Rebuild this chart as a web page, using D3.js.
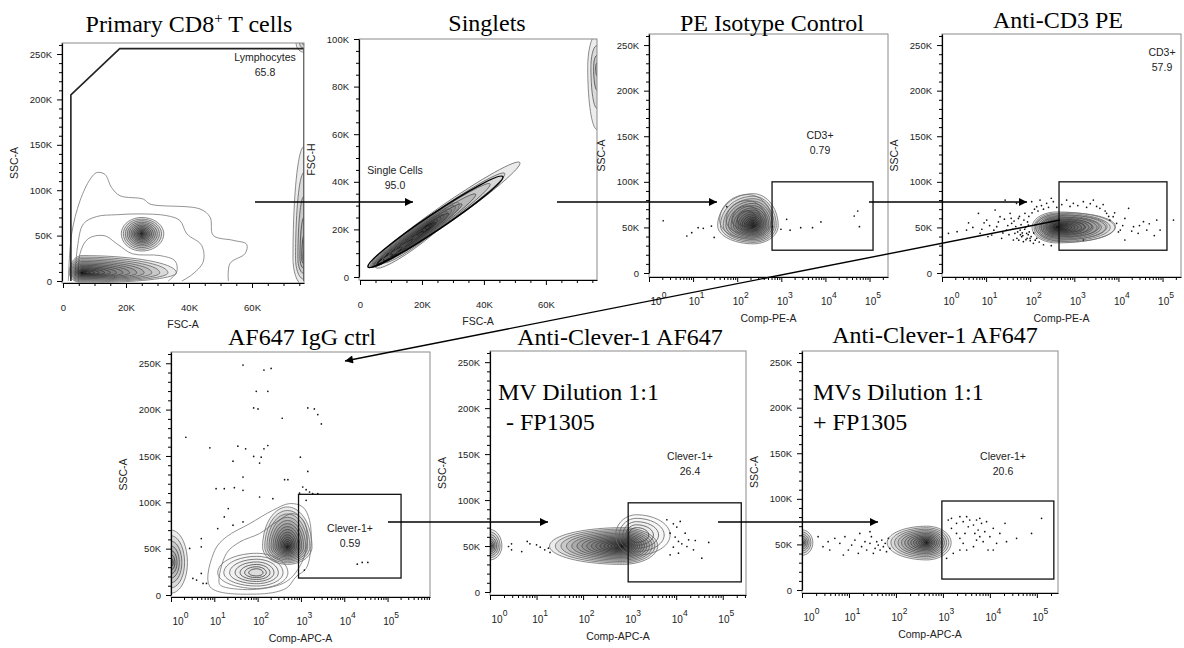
<!DOCTYPE html>
<html>
<head>
<meta charset="utf-8">
<script src="https://cdn.jsdelivr.net/npm/d3@7"></script>
<style>
  body { margin: 0; background: #fff; }
  svg text { font-family: "Liberation Sans", Arial, sans-serif; }
  .title, .note { font-family: "Liberation Serif", "Times New Roman", serif; font-size: 24px; fill: #000; }
</style>
</head>
<body>
<svg id="chart" width="1184" height="648"></svg>
<script>
// ---- text ----
const titles = ["Primary CD8+ T cells", "Singlets", "PE Isotype Control", "Anti-CD3 PE",
                "AF647 IgG ctrl", "Anti-Clever-1 AF647", "Anti-Clever-1 AF647"];
const xLabels = ["FSC-A", "FSC-A", "Comp-PE-A", "Comp-PE-A", "Comp-APC-A", "Comp-APC-A", "Comp-APC-A"];
const yLabels = ["SSC-A", "FSC-H", "SSC-A", "SSC-A", "SSC-A", "SSC-A", "SSC-A"];
const gateNames = ["Lymphocytes", "Single Cells", "CD3+", "CD3+", "Clever-1+", "Clever-1+", "Clever-1+"];
const gateValues = ["65.8", "95.0", "0.79", "57.9", "0.59", "26.4", "20.6"];
const notes = [null, null, null, null, null, ["MV Dilution 1:1", "- FP1305"], ["MVs Dilution 1:1", "+ FP1305"]];

// ---- ticks ----
const fscTicks = [0, 20000, 40000, 60000];
const fshTicks = [0, 20000, 40000, 60000, 80000, 100000];
const sscTicks = [0, 50000, 100000, 150000, 200000, 250000];
const logTicks = [1, 10, 100, 1000, 10000, 100000];

// ---- gates (data units) ----
const lymphGate = [[2500, 0], [2500, 205000], [18000, 256000], [76500, 256000], [76500, 0]];
const singletGate = { from: [2600, 4200], to: [46100, 42200], ratio: 0.1 };
const rectGates = [null, null,
  [[616, 25000], [120000, 100000]],
  [[450, 25000], [126000, 100000]],
  [[880, 18300], [205000, 108600]],
  [[930, 11000], [250000, 97000]],
  [[950, 12000], [230000, 97600]]];

// ---- contour populations: x/y = [low edge, peak, high edge], n = rings, skip = hide inner rings ----
const p1Pops = [
  { x: [18500, 25000, 32000], y: [33000, 52000, 70000], n: 14 },
  { x: [2000, 6000, 36000], y: [-2000, 9000, 28000], n: 16 },
  { x: [73000, 76500, 80000], y: [-5000, 25000, 148000], n: 6 },
  { x: [74000, 76500, 80000], y: [252000, 262000, 272000], n: 3 }];
const p2Pops = [
  { x: [73500, 76500, 79000], y: [62000, 88000, 102000], n: 4 }];
const p2Diag = [
  { from: [3200, 4200], to: [51600, 48100], peak: [6000, 5500], ratio: 0.1, n: 12 },
  { from: [5000, 4000], to: [32000, 31000], peak: [22000, 21000], ratio: 0.17, n: 10 }];
const p3Pops = [
  { x: [36, 230, 850], y: [32000, 52000, 87000], n: 18 },
  { x: [40, 170, 600], y: [38000, 58000, 86000], n: 6, skip: 0.5 }];
const p4Pops = [
  { x: [110, 400, 8300], y: [33000, 50000, 67000], n: 18 },
  { x: [130, 700, 8600], y: [34000, 51000, 66000], n: 8, skip: 0.4 }];
const p5Pops = [
  { x: [130, 490, 1800], y: [33000, 52000, 95000], n: 16 },
  { x: [12, 95, 500], y: [7000, 24000, 45000], n: 9, skip: 0.25 },
  { x: [0.5, 1, 2.4], y: [2000, 35000, 70000], n: 8 }];
const p6Pops = [
  { x: [0.5, 1, 1.8], y: [35000, 50000, 68000], n: 9 },
  { x: [19, 700, 4000], y: [30000, 50000, 70000], n: 18 },
  { x: [500, 1400, 7400], y: [40000, 62000, 84000], n: 8, skip: 0.4 }];
const p7Pops = [
  { x: [0.5, 1, 1.7], y: [38000, 52000, 66000], n: 8 },
  { x: [65, 450, 1500], y: [33000, 52000, 70000], n: 15 }];

// ---- free-form outer contours ----
const p1Outlines = [
  [[1700, 0], [2750, 52000], [5400, 88400], [8600, 112000], [10700, 119400], [13300, 117500], [15400, 103000],
   [18100, 93900], [25500, 90200], [27600, 84800], [43500, 79300], [46700, 70200], [47700, 50200], [54000, 44800],
   [58300, 40400], [57800, 30200], [53000, 19300], [52500, 0]],
  [[3800, 0], [4600, 37500], [6500, 63000], [10700, 71000], [17000, 73000], [24400, 73900], [32900, 72000],
   [37100, 66600], [39300, 52000], [44000, 39300], [44500, 21100], [40800, 6600], [37700, 0]],
  [[4900, 0], [5400, 30200], [8000, 46600], [13000, 50000], [17500, 40000], [22000, 30000], [30800, 28000],
   [35600, 22000], [36100, 10000], [33400, 0]]];
const p5Outlines = [
  [[7.9, 9000], [10.3, 48400], [19, 62700], [66, 77000], [225, 91400], [545, 98600], [1100, 95000], [1580, 80600],
   [1700, 52000], [1320, 28700], [770, 19700], [455, 7200], [93, 1000]],
  [[13, 12500], [19, 44800], [39, 57300], [111, 66300], [270, 78800], [650, 87800], [1200, 78800], [1350, 52000],
   [930, 30500], [455, 14300], [93, 6100], [16, 9000]]];

// ---- single events ----
const p3Dots = [[2.1, 57300], [7.2, 40600], [9.3, 44200], [13, 49700], [17, 49000], [26, 51500], [30, 39000],
  [58, 72700], [630, 50800], [980, 48000], [1320, 58900], [1580, 47000], [2750, 49700], [5100, 49700],
  [7900, 56000], [45000, 62500], [59000, 50800], [54000, 68000]];
const p4Dots = [[1.4, 43500], [2.2, 45300], [3.6, 47100], [6.7, 65400], [7.3, 43500], [10.3, 58100], [13.4, 41700],
  [16, 69100], [17.4, 50800], [20.7, 61800], [22.5, 38000], [27, 80000], [29, 47100], [35, 65400], [38, 54500],
  [41.5, 36200], [45, 43500], [49, 76400], [54, 59900], [59, 47100], [64, 39800], [70, 34400], [76, 65400],
  [83, 43500], [91, 52600], [99, 38000], [108, 78200], [118, 32500], [140, 72700], [167, 80000], [236, 76400],
  [335, 78200], [670, 80000], [950, 76400], [1600, 78200], [2700, 80000], [3800, 70900], [5400, 65400],
  [6400, 58100], [7600, 61800], [9100, 54500], [11000, 47100], [14000, 59900], [17000, 70900], [22000, 50800],
  [28000, 43500], [37000, 56300], [44000, 47100], [74000, 58100], [88000, 47100], [177000, 58100],
  [14000, 36200], [1600, 36200], [60, 42000], [75, 48000], [85, 38000], [95, 45000], [105, 40000], [50, 38000],
  [120, 44000], [130, 36000], [55, 36000], [68, 41000], [80, 36500], [90, 42000], [100, 35500],
  [12, 52000], [15, 47000], [19, 56000], [24, 44000], [26, 59000], [31, 52000], [33, 42000], [37, 60000],
  [40, 48000], [43, 57000], [47, 51000], [52, 45000], [57, 62000], [62, 53000], [66, 44000], [72, 58000],
  [78, 50000], [87, 56000], [93, 62000], [110, 66000], [125, 70000], [150, 68000], [180, 74000], [200, 70000],
  [260, 72000], [300, 82000], [400, 72000], [520, 75000], [800, 73000], [1200, 74000], [1900, 72000],
  [2300, 76000], [3200, 73000], [4500, 75000], [5000, 68000], [6000, 62000], [8200, 66000], [12500, 52000],
  [10000, 45000], [20000, 46000], [30000, 52000], [50000, 54000], [65000, 41000], [4, 55000], [5, 50000],
  [8, 48000], [9, 55000], [11, 40000], [140, 38000], [160, 34000], [200, 31000], [300, 30000]];
const p5Dots = [[46, 248000], [140, 242600], [205, 244400], [93, 219700], [81, 201800], [102, 200700],
  [172, 219700], [370, 190700], [1440, 201800], [2040, 200700], [2450, 194600], [2960, 184600], [2.2, 170200],
  [7.9, 158800], [35, 160600], [53, 157700], [140, 157700], [172, 161300], [81, 149500], [121, 148700],
  [111, 142300], [970, 148700], [27, 144400], [46, 127200], [420, 124400], [500, 124400], [1440, 133300],
  [11, 114700], [17, 114700], [29, 115800], [46, 112900], [111, 105700], [225, 103900], [1100, 116500],
  [1320, 113600], [930, 110000], [1580, 111100], [1860, 109300], [1320, 102100], [2450, 109300], [21, 93200],
  [17, 84200], [12, 71700], [27, 75300], [46, 78800], [5, 60900], [5, 52000], [2.7, 50200], [3.2, 17900],
  [3.9, 16100], [5, 23300], [5.5, 12500], [6.6, 12500], [26000, 35100], [35000, 35100], [20000, 33300],
  [1200, 26900]];
const p6Dots = [[2.5, 49500], [2.9, 52400], [2.9, 45900], [4.8, 44000], [6.3, 55000], [7.2, 52400], [10, 51300],
  [12, 48800], [15, 45900], [18, 47700], [19.5, 43000], [6300, 78600], [8700, 74200], [10300, 70600],
  [12200, 76800], [7400, 64000], [9500, 59700], [11200, 55000], [13200, 52400], [17000, 49500], [23500, 45900],
  [35500, 36800], [7400, 40400], [11200, 42200], [18500, 56800], [50000, 53900], [8700, 48800], [15600, 64000],
  [25700, 56000]];
const p7Dots = [[2.2, 58500], [2.8, 47500], [3.6, 53000], [3.9, 43900], [5, 56700], [6.4, 51200], [8.2, 58500],
  [9.7, 43900], [11.4, 49300], [13.4, 54800], [15.8, 40200], [18.6, 47500], [21.9, 53000], [23.8, 43900],
  [28, 51200], [30, 58500], [33, 40200], [36, 45700], [39, 53000], [42, 49300], [46, 43900], [50, 54800],
  [54, 47500], [59, 51200], [63, 42000], [69, 56700], [74, 45700], [28, 64000], [17, 62100], [7.6, 38400],
  [1300, 76800], [1520, 78600], [1950, 73100], [2300, 80400], [2700, 74900], [3200, 80400], [3470, 69400],
  [3720, 76800], [4470, 71300], [4790, 62100], [5200, 76800], [5620, 65800], [6100, 58500], [6640, 73100],
  [7200, 53000], [7800, 64000], [8500, 74900], [9150, 43900], [10000, 58500], [11800, 67600], [13900, 51200],
  [16300, 62100], [21000, 73100], [22600, 53000], [37000, 56700], [1200, 34700], [1660, 40200], [2300, 43900],
  [3200, 43900], [2700, 51200], [4470, 47500], [126000, 78600], [77000, 62100], [11800, 43900], [5200, 54800],
  [1950, 62100], [2300, 56700], [1520, 67600], [2950, 62100], [6100, 78600]];

const pops = [p1Pops, p2Pops, p3Pops, p4Pops, p5Pops, p6Pops, p7Pops];
const outlines = [p1Outlines, [], [], [], p5Outlines, [], []];
const dots = [[], [], p3Dots, p4Dots, p5Dots, p6Dots, p7Dots];

// ---- page layout (pixels) ----
const layout = [
  { left: 62, right: 304, top: 43, bottom: 283, y0: 281, log: false, xMax: 76500, yMax: 262144, yTicks: sscTicks, yMinor: 10000, tx: 189, ty: 32, gl: [265, 57] },
  { left: 359, right: 597, top: 39, bottom: 280, y0: 277, log: false, xMax: 76500, yMax: 100000, yTicks: fshTicks, yMinor: 5000, tx: 487, ty: 31, gl: [395, 170] },
  { left: 649, right: 888, top: 34, bottom: 277, y0: 273, log: true, xMax: 262144, yMax: 262144, yTicks: sscTicks, yMinor: 10000, tx: 772, ty: 31, gl: [820, 135] },
  { left: 942, right: 1181, top: 34, bottom: 277, y0: 273, log: true, xMax: 262144, yMax: 262144, yTicks: sscTicks, yMinor: 10000, tx: 1058, ty: 28, gl: [1162, 52] },
  { left: 171, right: 430, top: 352, bottom: 597, y0: 595, log: true, xMax: 955000, yMax: 262144, yTicks: sscTicks, yMinor: 10000, tx: 302, ty: 345, gl: [350, 528] },
  { left: 490, right: 746, top: 351, bottom: 595, y0: 592, log: true, xMax: 316000, yMax: 262144, yTicks: sscTicks, yMinor: 10000, tx: 620, ty: 345, gl: [690, 456], nx: 498 },
  { left: 802, right: 1058, top: 351, bottom: 593, y0: 590, log: true, xMax: 282000, yMax: 262144, yTicks: sscTicks, yMinor: 10000, tx: 935, ty: 343, gl: [1003, 456], nx: 813 }
];
const arrows = [[255, 202, 413, 202], [557, 202, 717, 202], [869, 202, 1027, 202],
                [1060, 220, 345, 361], [388, 522, 548, 522], [718, 522, 878, 522]];

const svg = d3.select('#chart');
const defs = svg.append('defs');
defs.append('marker')
  .attr('id', 'head').attr('viewBox', '0 0 10 10').attr('refX', 10).attr('refY', 5)
  .attr('markerWidth', 10).attr('markerHeight', 8).attr('markerUnits', 'userSpaceOnUse').attr('orient', 'auto')
  .append('path').attr('d', 'M0,0L10,5L0,10z').attr('fill', '#000');

const ringLine = d3.line().curve(d3.curveCardinalClosed);
const ringColor = d3.interpolateRgb('#111', '#6e6e6e');

function quadRing(cx, cy, rl, rr, rt, rb) {
  const pts = [];
  for (let a = 0; a < 36; a++) {
    const th = a / 36 * 2 * Math.PI, c = Math.cos(th), s = Math.sin(th);
    pts.push([cx + (c >= 0 ? rr : rl) * c, cy + (s >= 0 ? rb : rt) * s]);
  }
  return pts;
}

layout.forEach((L, i) => {
  const g = svg.append('g');
  const x = L.log
    ? d3.scaleLog().domain([1, L.xMax]).range([L.left, L.right])
    : d3.scaleLinear().domain([0, L.xMax]).range([L.left + 1, L.right]);
  const y = d3.scaleLinear().domain([0, L.yMax]).range([L.y0, L.top]);

  defs.append('clipPath').attr('id', 'clip' + i).append('rect')
    .attr('x', L.left).attr('y', L.top).attr('width', L.right - L.left).attr('height', L.bottom - L.top);
  const plot = g.append('g').attr('clip-path', `url(#clip${i})`);

  // free-form outer contours
  outlines[i].forEach(o => {
    const closed = o[0][1] > 0;
    plot.append('path')
      .attr('d', d3.line().x(d => x(d[0])).y(d => y(d[1]))
        .curve(closed ? d3.curveCatmullRomClosed : d3.curveCatmullRom)(o))
      .attr('fill', 'none').attr('stroke', '#777').attr('stroke-width', 0.8);
  });

  // nested contour rings; faint fills stack up to a dark core
  pops[i].forEach(p => {
    const cx = x(p.x[1]), cy = y(p.y[1]);
    const rl = cx - x(p.x[0]), rr = x(p.x[2]) - cx, rt = cy - y(p.y[2]), rb = y(p.y[0]) - cy;
    for (let k = p.n; k >= 1; k--) {
      if (p.skip && k / p.n < p.skip) break;
      const s = Math.pow(k / p.n, 1.45);
      plot.append('path')
        .attr('d', ringLine(quadRing(cx, cy, rl * s, rr * s, rt * s, rb * s)))
        .attr('fill', '#000').attr('fill-opacity', p.skip ? 0.02 : 0.075)
        .attr('stroke', ringColor(k / p.n)).attr('stroke-width', 0.8);
    }
  });

  // diagonal singlet populations
  if (i === 1) {
    p2Diag.forEach(p => {
      for (let k = p.n; k >= 1; k--) {
        const s = Math.pow(k / p.n, 1.3);
        const ax = x(p.peak[0] + (p.from[0] - p.peak[0]) * s), ay = y(p.peak[1] + (p.from[1] - p.peak[1]) * s);
        const bx = x(p.peak[0] + (p.to[0] - p.peak[0]) * s), by = y(p.peak[1] + (p.to[1] - p.peak[1]) * s);
        const len = Math.hypot(bx - ax, by - ay) / 2;
        const ang = Math.atan2(by - ay, bx - ax) * 180 / Math.PI;
        plot.append('ellipse')
          .attr('cx', 0).attr('cy', 0).attr('rx', len).attr('ry', Math.max(len * p.ratio, 2))
          .attr('transform', `translate(${(ax + bx) / 2},${(ay + by) / 2}) rotate(${ang})`)
          .attr('fill', '#000').attr('fill-opacity', 0.08)
          .attr('stroke', ringColor(k / p.n)).attr('stroke-width', 0.8);
      }
    });
    const G = singletGate;
    const ax = x(G.from[0]), ay = y(G.from[1]), bx = x(G.to[0]), by = y(G.to[1]);
    const len = Math.hypot(bx - ax, by - ay) / 2;
    plot.append('ellipse')
      .attr('rx', len).attr('ry', len * G.ratio)
      .attr('transform', `translate(${(ax + bx) / 2},${(ay + by) / 2}) rotate(${Math.atan2(by - ay, bx - ax) * 180 / Math.PI})`)
      .attr('fill', 'none').attr('stroke', '#000').attr('stroke-width', 1.5);
  }

  // single events
  plot.selectAll('circle.ev').data(dots[i]).join('circle')
    .attr('class', 'ev').attr('cx', d => x(d[0])).attr('cy', d => y(d[1])).attr('r', 0.85).attr('fill', '#111');

  // gates
  if (i === 0) {
    plot.append('path')
      .attr('d', d3.line().x(d => x(d[0])).y(d => y(d[1]))(lymphGate))
      .attr('fill', 'none').attr('stroke', '#222').attr('stroke-width', 1.6);
  }
  if (rectGates[i]) {
    const [a, b] = rectGates[i];
    plot.append('rect')
      .attr('x', x(a[0])).attr('y', y(b[1])).attr('width', x(b[0]) - x(a[0])).attr('height', y(a[1]) - y(b[1]))
      .attr('fill', 'none').attr('stroke', '#111').attr('stroke-width', 1.3);
  }

  // frame
  g.append('rect')
    .attr('x', L.left).attr('y', L.top).attr('width', L.right - L.left).attr('height', L.bottom - L.top)
    .attr('fill', 'none').attr('stroke', '#8a8a8a').attr('stroke-width', 1);

  // y axis
  const yMinorVals = d3.range(0, L.yMax, L.yMinor).filter(v => !L.yTicks.includes(v));
  const ya = g.append('g').attr('transform', `translate(${L.left},0)`)
    .call(d3.axisLeft(y).tickValues(L.yTicks).tickSize(5).tickSizeOuter(0).tickPadding(5)
      .tickFormat(d => d === 0 ? '0' : d / 1000 + 'K'));
  g.append('g').attr('transform', `translate(${L.left},0)`)
    .call(d3.axisLeft(y).tickValues(yMinorVals).tickSize(3).tickSizeOuter(0).tickFormat(''))
    .select('.domain').remove();

  // x axis
  let xMinorVals, xa;
  if (L.log) {
    xMinorVals = [];
    for (let d = 0; d < 7; d++) for (let m = 2; m <= 9; m++) {
      const v = m * Math.pow(10, d);
      if (v < L.xMax) xMinorVals.push(v);
    }
    xa = g.append('g').attr('transform', `translate(0,${L.bottom})`)
      .call(d3.axisBottom(x).tickValues(logTicks).tickSize(5).tickSizeOuter(0).tickPadding(16));
    xa.selectAll('.tick text').each(function (d) {
      const t = d3.select(this).text(null).attr('dx', d === 1 ? 9 : 3);
      t.append('tspan').text('10');
      t.append('tspan').attr('dy', -7).attr('font-size', 8.5).text(Math.round(Math.log10(d)));
    });
  } else {
    xMinorVals = d3.range(0, L.xMax, 5000).filter(v => !fscTicks.includes(v));
    xa = g.append('g').attr('transform', `translate(0,${L.bottom})`)
      .call(d3.axisBottom(x).tickValues(fscTicks).tickSize(5).tickSizeOuter(0).tickPadding(16)
        .tickFormat(d => d === 0 ? '0' : d / 1000 + 'K'));
  }
  g.append('g').attr('transform', `translate(0,${L.bottom})`)
    .call(d3.axisBottom(x).tickValues(xMinorVals).tickSize(3).tickSizeOuter(0).tickFormat(''))
    .select('.domain').remove();

  [ya, xa].forEach(ax => {
    ax.select('.domain').attr('stroke', '#000').attr('stroke-width', 1.2);
    ax.selectAll('.tick text').attr('font-size', L.log && ax === xa ? 10 : 9.5).attr('fill', '#222');
  });
  g.selectAll('.tick line').attr('stroke', '#000');

  // axis titles
  g.append('text')
    .attr('x', (L.left + L.right) / 2).attr('y', L.bottom + 45)
    .attr('text-anchor', 'middle').attr('font-size', 10.5).attr('fill', '#222')
    .text(xLabels[i]);
  g.append('text')
    .attr('transform', `translate(${L.left - 44},${(L.top + L.bottom) / 2}) rotate(-90)`)
    .attr('text-anchor', 'middle').attr('font-size', 10.5).attr('fill', '#222')
    .text(yLabels[i]);

  // gate label
  g.append('text').attr('x', L.gl[0]).attr('y', L.gl[1] + 4)
    .attr('text-anchor', 'middle').attr('font-size', 10.5).attr('fill', '#222').text(gateNames[i]);
  g.append('text').attr('x', L.gl[0]).attr('y', L.gl[1] + 19)
    .attr('text-anchor', 'middle').attr('font-size', 10.5).attr('fill', '#222').text(gateValues[i]);

  // panel title
  const t = g.append('text').attr('class', 'title')
    .attr('x', L.tx).attr('y', L.ty).attr('text-anchor', 'middle');
  if (titles[i].includes('CD8+')) {
    const parts = titles[i].split('+');
    t.append('tspan').text(parts[0]);
    t.append('tspan').attr('dy', -9).attr('font-size', 15).text('+');
    t.append('tspan').attr('dy', 9).text(parts[1]);
  } else {
    t.text(titles[i]);
  }

  // sample annotation
  if (notes[i]) {
    g.append('text').attr('class', 'note').attr('x', L.nx).attr('y', L.top + 49).text(notes[i][0]);
    g.append('text').attr('class', 'note').attr('x', L.nx + (i === 5 ? 8 : 0)).attr('y', L.top + 79).text(notes[i][1]);
  }
});

// gating arrows
svg.selectAll('line.arrow').data(arrows).join('line')
  .attr('class', 'arrow')
  .attr('x1', d => d[0]).attr('y1', d => d[1]).attr('x2', d => d[2]).attr('y2', d => d[3])
  .attr('stroke', '#000').attr('stroke-width', 1.4).attr('marker-end', 'url(#head)');
</script>
</body>
</html>
